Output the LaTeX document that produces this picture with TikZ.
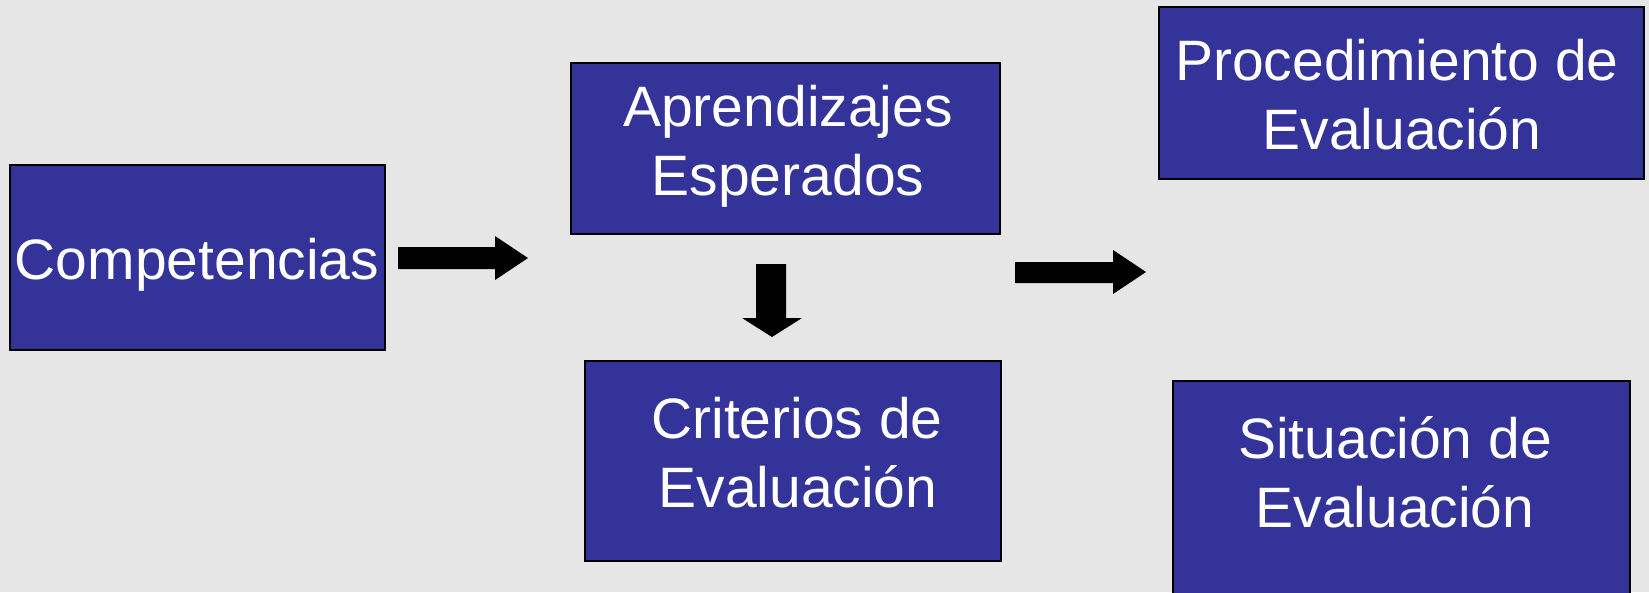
\documentclass[tikz,border=0pt]{standalone}
\usepackage{fontspec}
\setmainfont{Liberation Sans}
\definecolor{bg}{HTML}{E6E6E6}
\definecolor{boxblue}{HTML}{333399}
\begin{document}
\begin{tikzpicture}[x=1pt,y=-1pt,
  box/.style={draw=black, line width=2pt, fill=boxblue, inner sep=0pt, outer sep=0pt, anchor=north west},
  lbl/.style={text=white, font=\fontsize{57}{69}\selectfont, anchor=base, inner sep=0pt},
  blockarrow/.style={fill=black}]
\useasboundingbox (0,0) rectangle (1649,592);
\clip (0,0) rectangle (1649,592);
\fill[bg] (0,0) rectangle (1649,592);
% boxes
\node[box, minimum width=375pt, minimum height=185pt] (comp) at (10,165) {};
\node[box, minimum width=429pt, minimum height=171pt] (apre) at (571,63) {};
\node[box, minimum width=416pt, minimum height=200pt] (crit) at (585,361) {};
\node[box, minimum width=485pt, minimum height=172pt] (proc) at (1159,7) {};
\node[box, minimum width=457pt, minimum height=220pt] (situ) at (1173,381) {};
% texts
\node[lbl] (compT) at (197,279) {Competencias};
\node[lbl] (apreT1) at (788,126) {Aprendizajes};
\node[lbl] (apreT2) at (788,195) {Esperados};
\node[lbl] (critT1) at (797,438) {Criterios de};
\node[lbl] (critT2) at (798,507) {Evaluación};
\node[lbl] (procT1) at (1397,80) {Procedimiento de};
\node[lbl] (procT2) at (1402,149) {Evaluación};
\node[lbl] (situT1) at (1395,458) {Situación de};
\node[lbl] (situT2) at (1395,527) {Evaluación};
% block arrows
\coordinate (a1tip) at (528,258);
\coordinate (a2tip) at (772,337);
\coordinate (a3tip) at (1146,272);
\fill[blockarrow] (398,247) -- (495,247) -- (495,236) -- (a1tip) -- (495,280) -- (495,269) -- (398,269) -- cycle;
\fill[blockarrow] (756,264) -- (786,264) -- (786,318) -- (802,318) -- (a2tip) -- (742,318) -- (756,318) -- cycle;
\fill[blockarrow] (1015,262) -- (1113,262) -- (1113,250) -- (a3tip) -- (1113,294) -- (1113,283) -- (1015,283) -- cycle;
\end{tikzpicture}
\end{document}
